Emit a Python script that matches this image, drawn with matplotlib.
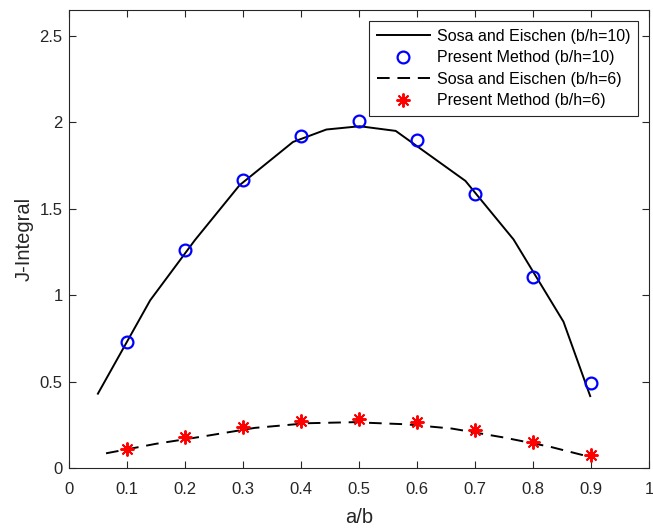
import matplotlib
matplotlib.use("Agg")
import matplotlib.pyplot as plt

plt.rcParams['font.family'] = ['Liberation Sans', 'DejaVu Sans']

# Sosa and Eischen, b/h=10 (solid line)
x_sosa10 = [0.05, 0.14, 0.217, 0.294, 0.386, 0.4435, 0.501, 0.563, 0.683, 0.766, 0.852, 0.898]
j_sosa10 = [0.43, 0.97, 1.318, 1.636, 1.886, 1.958, 1.977, 1.95, 1.661, 1.322, 0.846, 0.416]

# Present method, b/h=10 (circles)
x_pres = [0.1, 0.2, 0.3, 0.4, 0.5, 0.6, 0.7, 0.8, 0.9]
j_pres10 = [0.727, 1.26, 1.665, 1.921, 2.006, 1.896, 1.586, 1.106, 0.49]

# Sosa and Eischen, b/h=6 (dashed line)
x_sosa6 = [0.064, 0.15, 0.23, 0.32, 0.41, 0.49, 0.58, 0.66, 0.75, 0.83, 0.9]
j_sosa6 = [0.085, 0.14, 0.182, 0.232, 0.259, 0.265, 0.253, 0.228, 0.176, 0.122, 0.062]

# Present method, b/h=6 (asterisks)
j_pres6 = [0.11, 0.181, 0.235, 0.274, 0.283, 0.268, 0.218, 0.150, 0.073]

fig = plt.figure(figsize=(6.53, 5.29), dpi=100)
ax = fig.add_axes([0.1055, 0.1153, 0.889, 0.866])

ax.plot(x_sosa10, j_sosa10, color='black', lw=1.4, label='Sosa and Eischen (b/h=10)')
ax.plot(x_pres, j_pres10, 'o', mfc='none', mec='blue', ms=8.5, mew=1.6,
        label='Present Method (b/h=10)')
ax.plot(x_sosa6, j_sosa6, color='black', lw=1.4, dashes=(6.5, 4),
        label='Sosa and Eischen (b/h=6)')
ax.plot(x_pres, j_pres6, ls='none', marker=(8, 2, 0), color='red', ms=10, mew=1.4,
        label='Present Method (b/h=6)')

ax.set_xlim(0, 1)
ax.set_ylim(0, 2.65)
ax.set_xticks([i / 10 for i in range(11)])
ax.set_xticklabels(['0', '0.1', '0.2', '0.3', '0.4', '0.5', '0.6', '0.7', '0.8', '0.9', '1'])
ax.set_yticks([0, 0.5, 1, 1.5, 2, 2.5])
ax.set_yticklabels(['0', '0.5', '1', '1.5', '2', '2.5'])
ax.tick_params(direction='in', top=True, right=True, labelsize=12,
               colors='#262626', length=5, width=0.8)
ax.tick_params(axis='x', pad=10)
ax.tick_params(axis='y', pad=4.5)
for s in ax.spines.values():
    s.set_color('#262626')
    s.set_linewidth(0.8)

ax.set_xlabel('a/b', fontsize=14.5, color='#262626', labelpad=8)
ax.set_ylabel('J-Integral', fontsize=14.5, color='#262626', labelpad=4)

leg = ax.legend(loc='upper right', fontsize=11.5, frameon=True, fancybox=False,
                edgecolor='#262626', framealpha=1, borderaxespad=0.7,
                borderpad=0.5, handlelength=3.3, handletextpad=0.45,
                labelspacing=0.4)
leg.get_frame().set_linewidth(0.8)

fig.savefig('out.png', dpi=100)
